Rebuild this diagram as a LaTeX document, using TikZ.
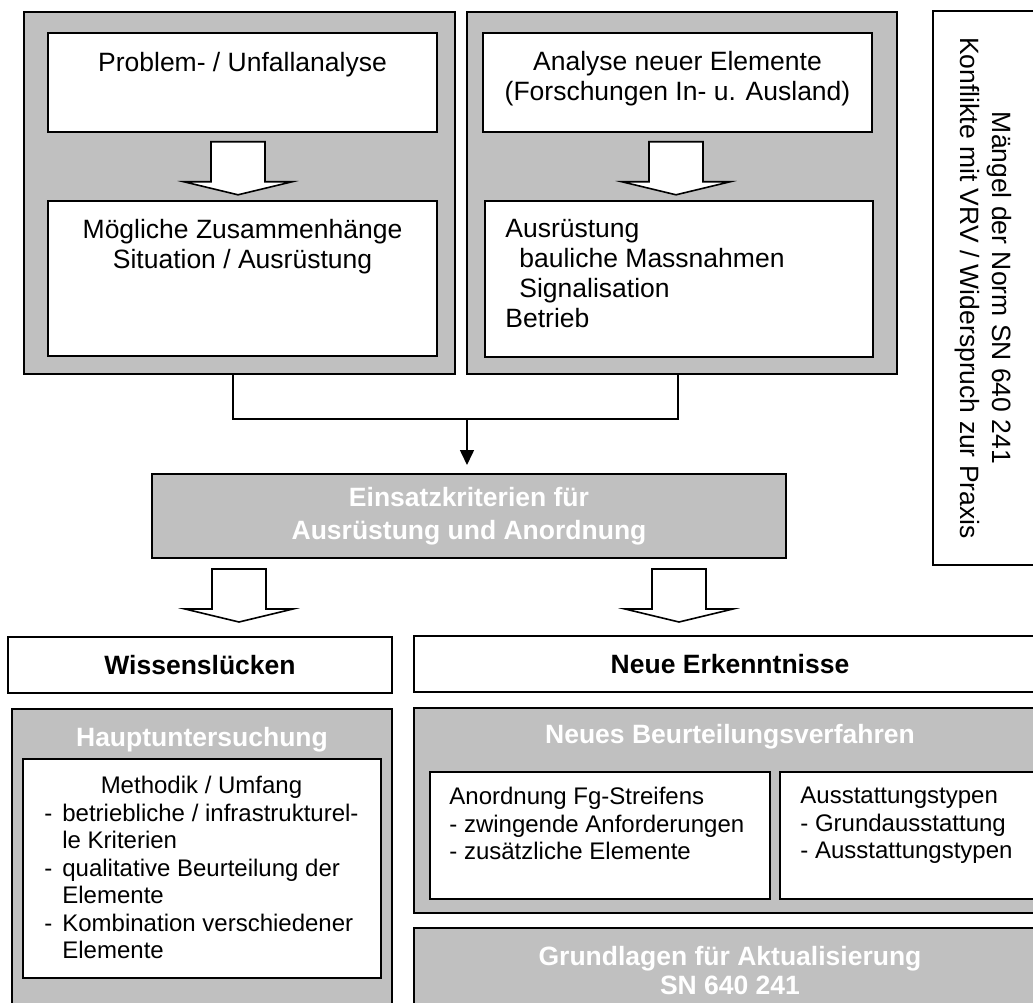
\documentclass[tikz,border=0pt]{standalone}
\usepackage{fontspec}
\setmainfont{Liberation Sans}
\usepackage{xcolor}
\usepackage{tikz}
\usetikzlibrary{arrows.meta,positioning,calc}
\definecolor{boxgrau}{RGB}{192,192,192}
\newcommand{\blockpfeil}[1]{%
  \draw[blockpfeil] #1 ++(-27,0) -- ++(54,0) -- ++(0,40) -- ++(27,0)
    -- ++(-54,13) -- ++(-54,-13) -- ++(27,0) -- cycle;}

\begin{document}
\begin{tikzpicture}[
  x=1pt, y=-1pt,
  grau/.style={draw,fill=boxgrau,line width=2pt,inner sep=0pt},
  weiss/.style={draw,fill=white,line width=1.6pt,inner sep=0pt},
  txt/.style={font=\fontsize{26.5}{30}\selectfont,inner sep=0pt},
  txtklein/.style={font=\fontsize{24}{27.5}\selectfont,inner sep=0pt},
  titel/.style={font=\bfseries\fontsize{26.5}{30}\selectfont,text=white,inner sep=0pt},
  blockpfeil/.style={draw,fill=white,line width=1.6pt,line join=miter},
  verb/.style={line width=1.6pt},
]

\useasboundingbox (0,0) rectangle (1033,1003);
\clip (0,0) rectangle (1033,1003);

%% ── Oben links: Problem- / Unfallanalyse ───────────────────────────────────
\node[grau,minimum width=431pt,minimum height=362pt] (links) at (239.5,193) {};
\node[weiss,minimum width=389pt,minimum height=99pt] (problem) at (242.5,82.5) {};
\node[txt,below=20pt of problem.north] (problemtext) {Problem- / Unfallanalyse};
\node[weiss,minimum width=389pt,minimum height=155pt] (zusammen) at (242.5,278.5) {};
\node[txt,align=center,below=19pt of zusammen.north] (zusammentext)
  {Mögliche Zusammenhänge\\Situation / Ausrüstung};
\blockpfeil{([xshift=-4.5pt,yshift=-9pt]problem.south)}

%% ── Oben rechts: Analyse neuer Elemente ───────────────────────────────────
\node[grau,minimum width=430pt,minimum height=362pt] (rechts) at (682,193) {};
\node[weiss,minimum width=389pt,minimum height=99pt] (analyse) at (677.5,82.5) {};
\node[txt,align=center,below=19pt of analyse.north] (analysetext)
  {Analyse neuer Elemente\\(Forschungen In- u. Ausland)};
\node[weiss,minimum width=388pt,minimum height=156pt] (ausruestung) at (679,279) {};
\node[txt,align=left,below right=19pt and 21pt of ausruestung.north west] (ausruestungtext)
  {Ausrüstung\\\hspace*{14pt}bauliche Massnahmen\\\hspace*{14pt}Signalisation\\Betrieb};
\blockpfeil{([xshift=-1.5pt,yshift=-9pt]analyse.south)}

%% ── Rand rechts: Mängel der Norm ──────────────────────────────────────────
\node[draw,fill=white,line width=1.6pt,minimum width=110pt,minimum height=554pt]
  (maengel) at (988,288) {};
\node[txt,rotate=-90,align=center,font=\fontsize{26.5}{32}\selectfont]
  (maengeltext) at ([xshift=-5pt]maengel.center)
  {Mängel der Norm SN 640 241\\Konflikte mit VRV / Widerspruch zur Praxis};

%% ── Einsatzkriterien ──────────────────────────────────────────────────────
\node[grau,titel,align=center,minimum width=634pt,minimum height=84pt,
      font=\bfseries\fontsize{26.5}{33}\selectfont] (einsatz) at (469,516)
  {Einsatzkriterien für\\Ausrüstung und Anordnung};

\coordinate (knoten) at (467,419);
\draw[verb] ([xshift=-6.5pt]links.south) |- (knoten) -| ([xshift=-4pt]rechts.south);
\draw[verb,-{Triangle[length=15pt,width=14pt]},shorten >=8pt]
  (knoten) -- (knoten |- einsatz.north);

\blockpfeil{([xshift=88pt,yshift=-10pt]einsatz.south west)}
\blockpfeil{([xshift=-108pt,yshift=-10pt]einsatz.south east)}

%% ── Wissensluecken / Neue Erkenntnisse ───────────────────────────────────
\node[weiss,minimum width=384pt,minimum height=56pt,txt,font=\bfseries\fontsize{26.5}{30}\selectfont]
  (wissen) at (200,665) {Wissenslücken};
\node[weiss,minimum width=632pt,minimum height=56pt,txt,font=\bfseries\fontsize{26.5}{30}\selectfont]
  (neu) at (730,664) {Neue Erkenntnisse};

%% ── Hauptuntersuchung ────────────────────────────────────────────────────
\node[grau,minimum width=380pt,minimum height=303pt] (haupt) at (202,860.5) {};
\node[titel,below=19pt of haupt.north] (haupttitel) {Hauptuntersuchung};
\node[weiss,minimum width=358pt,minimum height=219pt] (methodik) at (202,868.5) {};
\node[txtklein,anchor=north west,below right=16pt and 22pt of methodik.north west] (methodiktext)
  {\begin{tabular}{@{}p{18pt}@{}l@{}}
    \multicolumn{2}{@{}c@{}}{Methodik / Umfang}\\
    - & betriebliche / infrastrukturel-\\
      & le Kriterien\\
    - & qualitative Beurteilung der\\
      & Elemente\\
    - & Kombination verschiedener\\
      & Elemente
   \end{tabular}};

%% ── Neues Beurteilungsverfahren ──────────────────────────────────────────
\node[grau,minimum width=632pt,minimum height=205pt] (beurteilung) at (730,810.5) {};
\node[titel,below=17pt of beurteilung.north] (beurteilungtitel) {Neues Beurteilungsverfahren};
\node[weiss,minimum width=340pt,minimum height=127pt] (anordnung) at (600,835.5) {};
\node[txtklein,align=left,below right=16pt and 20pt of anordnung.north west] (anordnungtext)
  {Anordnung Fg-Streifens\\- zwingende Anforderungen\\- zusätzliche Elemente};
\node[weiss,minimum width=260pt,minimum height=127pt] (ausstattung) at (910,835.5) {};
\node[txtklein,align=left,below right=16pt and 21pt of ausstattung.north west] (ausstattungtext)
  {Ausstattungstypen\\- Grundausstattung\\- Ausstattungstypen};

%% ── Grundlagen fuer Aktualisierung ───────────────────────────────────────
\node[grau,minimum width=632pt,minimum height=84pt] (grundlagen) at (730,970) {};
\node[titel,align=center,font=\bfseries\fontsize{26.5}{29}\selectfont,
      below=19pt of grundlagen.north] (grundlagentext)
  {Grundlagen für Aktualisierung\\SN 640 241};

\end{tikzpicture}
\end{document}
